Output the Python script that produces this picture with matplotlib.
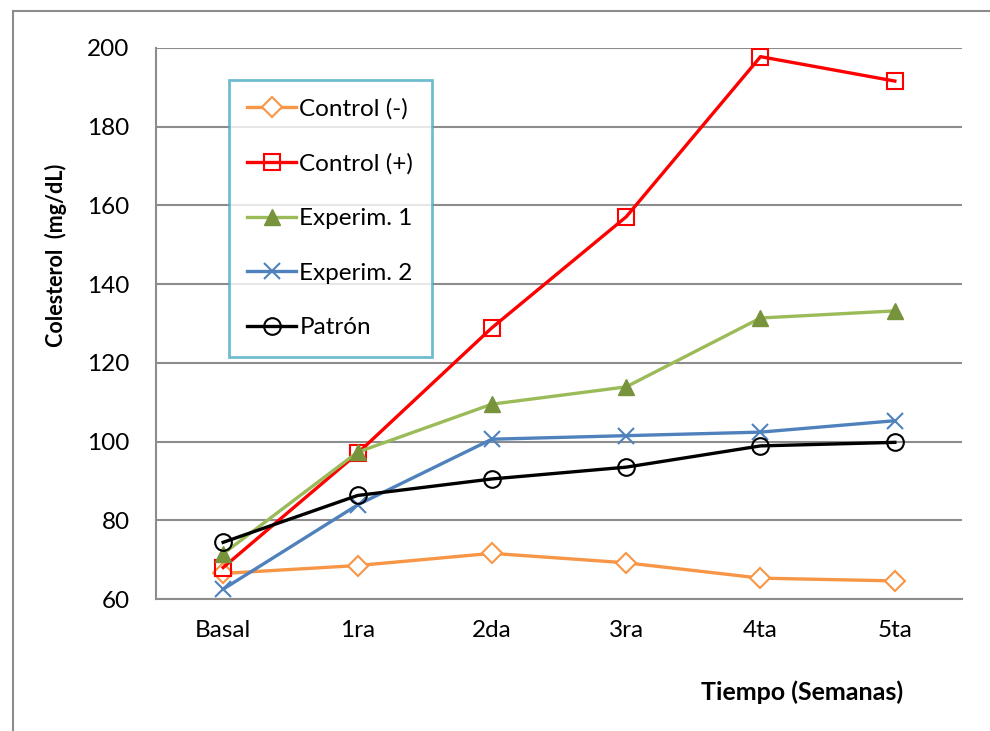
import matplotlib.pyplot as plt
from matplotlib.lines import Line2D

plt.rcParams['font.family'] = ['Lato', 'DejaVu Sans']

semanas = ["Basal", "1ra", "2da", "3ra", "4ta", "5ta"]
control_neg = [66.5, 68.5, 71.6, 69.2, 65.3, 64.6]
control_pos = [68.0, 97.0, 128.9, 157.1, 197.8, 191.6]
experim_1 = [71.5, 97.3, 109.5, 113.9, 131.4, 133.2]
experim_2 = [62.5, 83.9, 100.6, 101.5, 102.4, 105.3]
patron = [74.4, 86.3, 90.5, 93.5, 98.9, 99.8]

W, H = 990, 731
fig = plt.figure(figsize=(W / 100, H / 100), dpi=100)
ax = fig.add_axes([156 / W, 1 - 599 / H, (962 - 156) / W, (599 - 48) / H])

x = range(len(semanas))
lw = 2.4
ms = 12
fs = 17.5
ax.plot(x, control_neg, color="#F79646", lw=lw, marker="D", ms=ms * 0.85,
        mfc="white", mec="#F79646", mew=1.5, label="Control (-)")
ax.plot(x, control_pos, color="#FF0000", lw=lw, marker="s", ms=ms,
        mfc="none", mec="#FF0000", mew=1.5, label="Control (+)")
ax.plot(x, experim_1, color="#9BBB59", lw=lw, marker="^", ms=ms,
        mfc="#77933C", mec="#77933C", mew=1, label="Experim. 1")
ax.plot(x, experim_2, color="#4F81BD", lw=lw, marker="x", ms=ms,
        mec="#4F81BD", mew=1.5, label="Experim. 2")
ax.plot(x, patron, color="black", lw=lw, marker="o", ms=ms,
        mfc="none", mec="black", mew=1.5, label="Patrón")

ax.set_xlim(-0.5, 5.5)
ax.set_ylim(60, 200)
ax.set_yticks(range(60, 201, 20))
ax.set_xticks(list(x))
ax.set_xticklabels(semanas)
ax.tick_params(axis="both", length=0, labelsize=fs, colors="black")
ax.tick_params(axis="y", pad=19)
ax.tick_params(axis="x", pad=15)
ax.grid(axis="y", color="#8C8C8C", lw=1.5)
ax.set_axisbelow(True)
for s in ["top", "right"]:
    ax.spines[s].set_visible(False)
for s in ["left", "bottom"]:
    ax.spines[s].set_color("#8C8C8C")
    ax.spines[s].set_linewidth(1.5)

fig.text(56 / W, 1 - 255 / H, "Colesterol  (mg/dL)", rotation=90,
         ha="center", va="center", fontsize=15.5, fontweight="bold")
fig.text(802 / W, 1 - 692 / H, "Tiempo (Semanas)", ha="center", va="center",
         fontsize=18, fontweight="bold")

leg = fig.legend(loc="upper left", bbox_to_anchor=(229 / W, 1 - 80 / H),
                 fontsize=fs, frameon=True, fancybox=False, handlelength=2.0,
                 handletextpad=0.15, labelspacing=1.38, borderpad=0.75,
                 borderaxespad=0)
leg.get_frame().set_edgecolor("#4BACC6")
leg.get_frame().set_linewidth(2)

# marco exterior del gráfico
fig.add_artist(Line2D([13 / W, 13 / W], [0, 1 - 11 / H], color="#8C8C8C", lw=1.5))
fig.add_artist(Line2D([13 / W, 1], [1 - 11 / H, 1 - 11 / H], color="#8C8C8C", lw=1.5))

fig.savefig("out.png", dpi=100)
